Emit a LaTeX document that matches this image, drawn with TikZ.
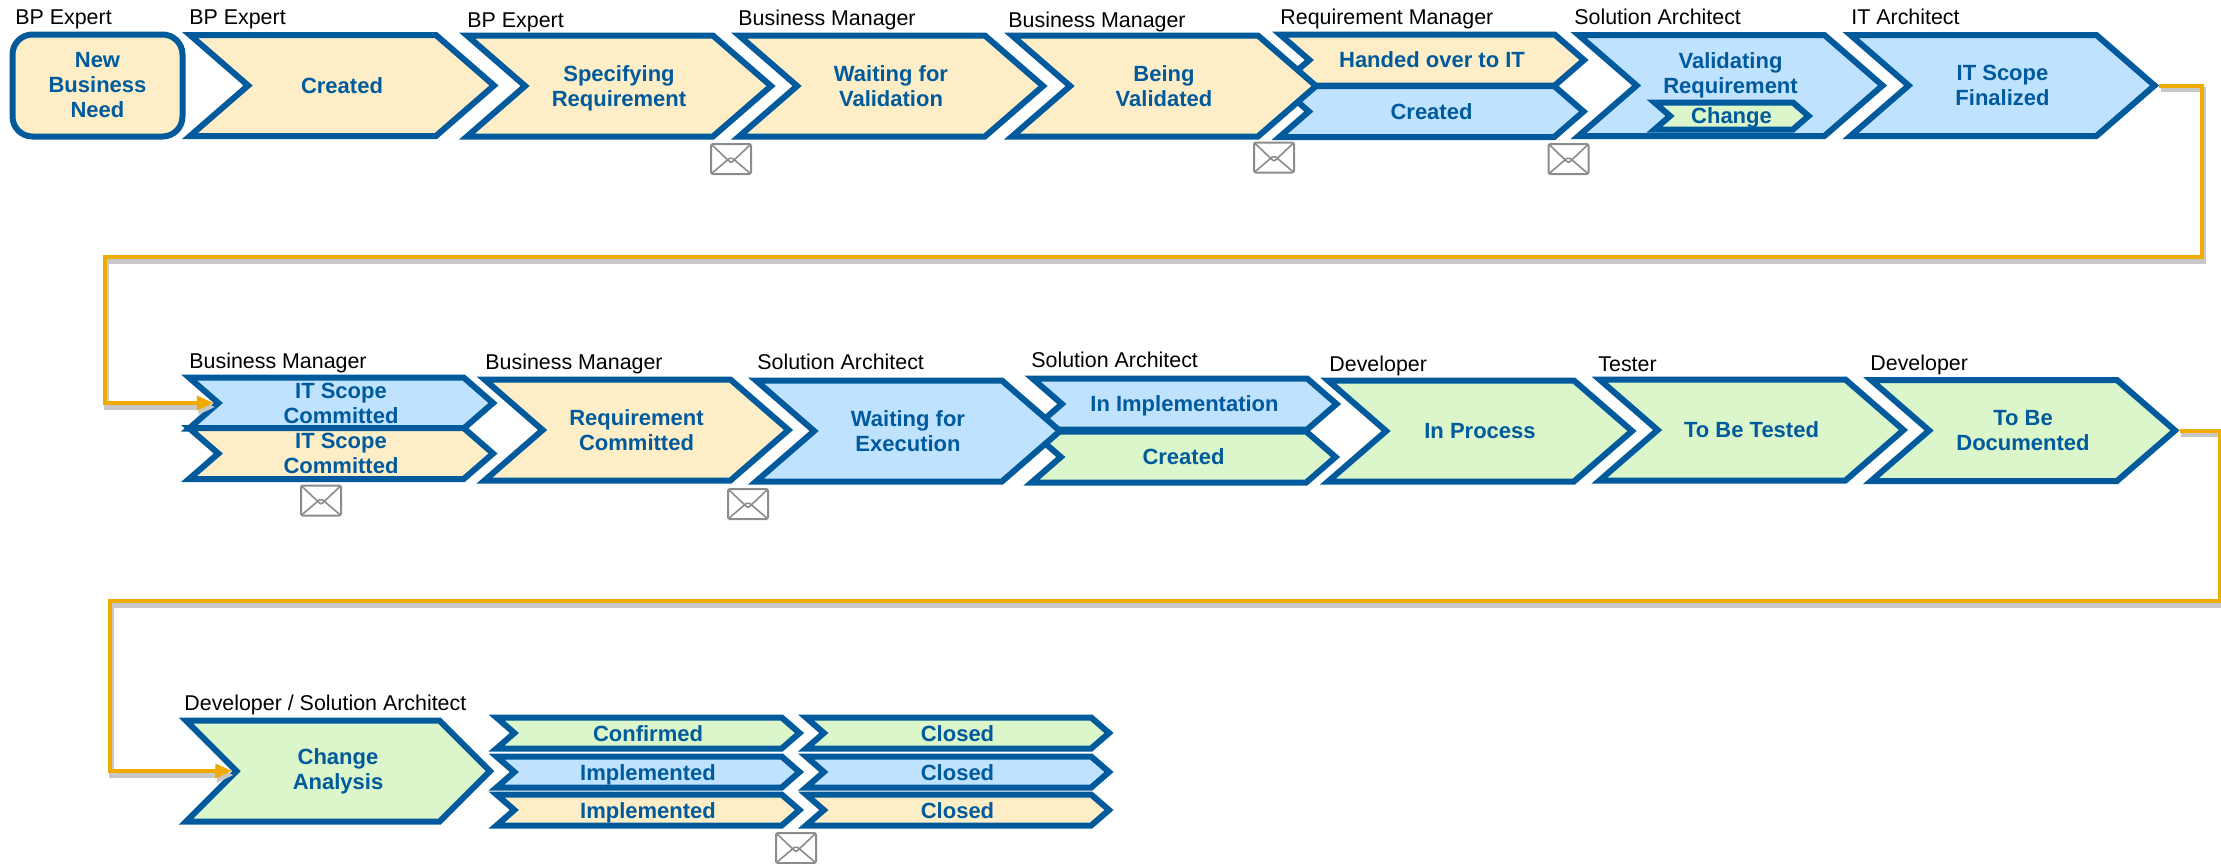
\documentclass[tikz,border=0pt]{standalone}
\usepackage{fontspec}
\setmainfont{Liberation Sans}
\usetikzlibrary{calc,positioning,arrows.meta,shapes.symbols}
\definecolor{sapblue}{HTML}{005A9C}
\definecolor{flowline}{HTML}{F0AB00}
\definecolor{creamf}{HTML}{FDEEC8}
\definecolor{bluef}{HTML}{BFE2FE}
\definecolor{greenf}{HTML}{DAF6CA}
\definecolor{mailgray}{HTML}{8C8C8C}
\tikzset{stat/.style={signal,signal to=east,signal from=west,signal pointer angle=82,draw=sapblue,line
width=3pt,inner sep=0pt,text=sapblue,align=center,font=\fontsize{11}{12.5}\selectfont\bfseries},
bigstat/.style={stat,minimum width=152pt,minimum height=50.5pt},
halfstat/.style={stat,minimum width=152pt,minimum height=25.5pt},
smallstat/.style={stat,minimum width=151.5pt,minimum height=15.5pt,text height=8pt,text depth=0pt},
role/.style={anchor=west,inner sep=0pt,text=black,text depth=0pt,font=\fontsize{10.7}{12}\selectfont},
mail/.style={draw=mailgray,fill=white,line width=1pt,rounded corners=1pt,minimum width=20pt,minimum height=15pt,inner sep=0pt,
path picture={\draw[mailgray,line width=.8pt] (path picture bounding box.north west) -- ($(path picture bounding box.center)+(0,-2pt)$) -- (path picture bounding box.north east);
\draw[mailgray,line width=.8pt] (path picture bounding box.south west) -- ($(path picture bounding box.center)+(0,1pt)$) -- (path picture bounding box.south east);}},
flow/.style={draw=flowline,line width=2pt,-{Triangle[length=8.5pt,width=7pt]},
preaction={draw=black!22,line width=2.5pt,transform canvas={xshift=.8pt,yshift=-2pt}}}}

\begin{document}
\begin{tikzpicture}[x=.5pt,y=-.5pt]
	\useasboundingbox (0,0) rectangle (2221,863);
	% first row
	\node[role] (r1) at (15,17) {BP Expert};
	\node[role] (r2) at (189,17) {BP Expert};
	\node[role] (r3) at (467,20) {BP Expert};
	\node[role] (r4) at (738,18) {Business Manager};
	\node[role] (r5) at (1008,20) {Business Manager};
	\node[role] (r6) at (1280,17) {Requirement Manager};
	\node[role] (r7) at (1574,17) {Solution Architect};
	\node[role] (r8) at (1851,17) {IT Architect};

	\node[draw=sapblue,line width=3pt,rounded corners=10pt,fill=creamf,text=sapblue,align=center,minimum width=85pt,minimum height=51pt,inner sep=0pt,font=\fontsize{11}{12.5}\selectfont\bfseries] (newneed) at (97.5,85.5) {New\\Business\\Need};
	\node[bigstat,fill=creamf] (created) at (342,85.5) {Created};
	\node[bigstat,fill=creamf] (specreq) at (619,86) {Specifying\\\smash{Requirement}};
	\node[bigstat,fill=creamf] (waitval) at (891,86) {Waiting for\\Validation};
	\node[halfstat,fill=creamf] (handed) at (1432,60) {Handed over to IT};
	\node[halfstat,fill=bluef] (reqcreated) at (1431.5,111.5) {Created};
	\node[bigstat,fill=creamf] (beingval) at (1164,86) {Being\\Validated};
	\node[bigstat,fill=bluef] (validreq) at (1730.5,85.5) {Validating\\Requirement\\~};
	\node[stat,fill=greenf,minimum width=77pt,minimum height=13.5pt,text depth=0pt] (change) at (1731.5,116) {Change};
	\node[bigstat,fill=bluef] (itfinal) at (2002.5,85.5) {IT Scope\\Finalized};

	\node[mail] (m1) at (731,159) {};
	\node[mail] (m2) at (1274,157.5) {};
	\node[mail] (m3) at (1568.5,159) {};

	% second row
	\node[role] (r9) at (189,361) {Business Manager};
	\node[role] (r10) at (485,362) {Business Manager};
	\node[role] (r11) at (757,362) {Solution Architect};
	\node[role] (r12) at (1031,360) {Solution Architect};
	\node[role] (r13) at (1329,364) {Developer};
	\node[role] (r14) at (1598,364) {Tester};
	\node[role] (r15) at (1870,363) {Developer};

	\node[halfstat,fill=bluef] (scopeup) at (341,403) {IT Scope\\Committed};
	\node[halfstat,fill=creamf] (scopelow) at (341,453.5) {IT Scope\\Committed};
	\node[bigstat,fill=creamf] (reqcom) at (636.5,430) {Requirement\\Committed};
	\node[halfstat,fill=bluef,text depth=0pt] (inimpl) at (1184.5,404) {In Implementation};
	\node[halfstat,fill=greenf] (implcreated) at (1183.5,457) {Created};
	\node[bigstat,fill=bluef] (waitexec) at (908,431) {Waiting for\\Execution};
	\node[bigstat,fill=greenf] (inproc) at (1480,431) {In Process};
	\node[bigstat,fill=greenf] (tested) at (1751.5,430) {To Be Tested};
	\node[bigstat,fill=greenf] (docu) at (2023,430.5) {To Be\\Documented};

	\node[mail] (m4) at (321,500.5) {};
	\node[mail] (m5) at (748,504) {};

	% third row
	\node[role] (r16) at (184,703) {Developer / Solution Architect};

	\node[bigstat,fill=greenf,signal pointer angle=90] (chanal) at (338,771) {Change\\Analysis};
	\node[smallstat,fill=greenf] (confirmed) at (648,733) {Confirmed};
	\node[smallstat,fill=bluef] (impla) at (648,772) {Implemented};
	\node[smallstat,fill=creamf] (implb) at (648,810) {Implemented};
	\node[smallstat,fill=greenf] (closeda) at (957.5,733) {Closed};
	\node[smallstat,fill=bluef] (closedb) at (957.5,772) {Closed};
	\node[smallstat,fill=creamf] (closedc) at (957.5,810) {Closed};

	\node[mail] (m6) at (796,848) {};

	% row links
	\coordinate (ra) at (2202,257);
	\coordinate (la) at (105,257);
	\coordinate (rb) at (2220,601);
	\coordinate (lb) at (110,601);
	\draw[flow] (itfinal.east) -| (ra) -- (la) |- (scopeup.west);
	\draw[flow] (docu.east) -| (rb) -- (lb) |- (chanal.west);
\end{tikzpicture}
\end{document}
